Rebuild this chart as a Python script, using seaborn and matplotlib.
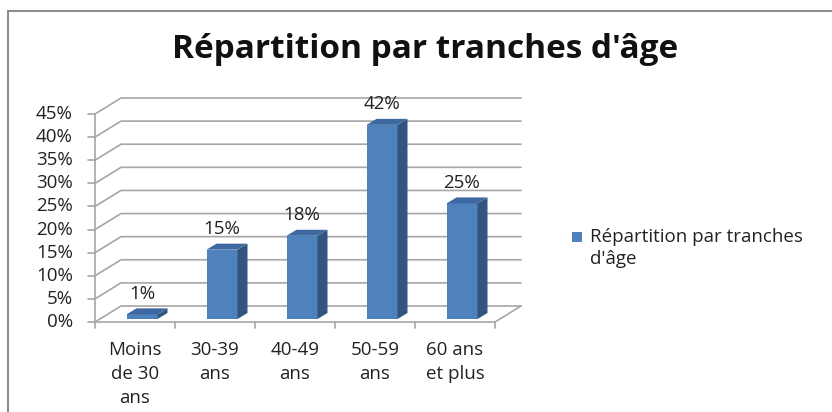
import matplotlib
matplotlib.use("Agg")
import matplotlib.pyplot as plt
import seaborn as sns
import pandas as pd
from matplotlib.patches import Polygon, Rectangle
from matplotlib.lines import Line2D

categories = ["Moins\nde 30\nans", "30-39\nans", "40-49\nans", "50-59\nans", "60 ans\net plus"]
values = [1, 15, 18, 42, 25]
yticks = [0, 5, 10, 15, 20, 25, 30, 35, 40, 45]
series_name = "Répartition par tranches d'âge"
title = "Répartition par tranches d'âge"

sns.set_theme(style="white")
plt.rcParams["font.family"] = ["Open Sans", "DejaVu Sans"]

W, H = 832, 412
fig = plt.figure(figsize=(W / 100, H / 100), dpi=100)

FS = 13.5
TXT = "#222222"

# pixel geometry
px_per_cat = 80.0
px_per_pct = (322 - 114) / 45.0
x0_px, y0_px = 95, 322
xlim = (-0.5, 4.9)
ylim = (0, 49.5)
ax_w = (xlim[1] - xlim[0]) * px_per_cat
ax_h = (ylim[1] - ylim[0]) * px_per_pct
ax = fig.add_axes([x0_px / W, (H - y0_px) / H, ax_w / W, ax_h / H])
ax.set_xlim(*xlim)
ax.set_ylim(*ylim)
ax.set_facecolor("none")

# depth of the 3D box
DX = 26 / px_per_cat
DY = 16 / px_per_pct
grid_col = "#a6a6a6"

df = pd.DataFrame({"cat": categories, "val": values})
sns.barplot(data=df, x="cat", y="val", color="#4f81bd", saturation=1,
            width=31 / px_per_cat, ax=ax, zorder=3, linewidth=0)
ax.set_xlim(*xlim)
ax.set_ylim(*ylim)

# walls: gridlines and floor
for v in yticks:
    ax.plot([-0.5, -0.5 + DX, 4.5 + DX], [v, v + DY, v + DY], color=grid_col, lw=1.2, zorder=1, clip_on=False)
ax.plot([-0.5, 4.5, 4.5 + DX], [0, 0, DY], color=grid_col, lw=1.2, zorder=1, clip_on=False)
ax.plot([-0.5, -0.5], [0, 45], color=grid_col, lw=1.2, zorder=1, clip_on=False)
# tick marks
for v in yticks:
    ax.plot([-0.5 - 7 / px_per_cat, -0.5], [v, v], color=grid_col, lw=1.2, clip_on=False)
for i in range(6):
    xb = -0.5 + i
    ax.plot([xb, xb], [0, -6 / px_per_pct], color=grid_col, lw=1.2, clip_on=False)

# 3D bars
sx = 7 / px_per_cat
sy = 3 / px_per_pct
ddx = 10 / px_per_cat
ddy = 6 / px_per_pct
for p, v in zip(ax.patches, values):
    p.set_x(p.get_x() + sx)
    p.set_y(p.get_y() + sy)
    x1 = p.get_x()
    w = p.get_width()
    b = p.get_y()
    t = b + p.get_height()
    side = Polygon([[x1 + w, b], [x1 + w + ddx, b + ddy], [x1 + w + ddx, t + ddy], [x1 + w, t]],
                   closed=True, facecolor="#32557f", edgecolor="none", zorder=3)
    top = Polygon([[x1, t], [x1 + ddx, t + ddy], [x1 + w + ddx, t + ddy], [x1 + w, t]],
                  closed=True, facecolor="#3d68a0", edgecolor="none", zorder=3)
    ax.add_patch(side)
    ax.add_patch(top)
    ax.text(x1 + w / 2, t + ddy + 1.2, f"{v}%", ha="center", va="bottom",
            fontsize=FS, color=TXT, zorder=4)

# axis labels
ax.set_xticks([])
ax.set_yticks([])
for s in ax.spines.values():
    s.set_visible(False)
ax.set_xlabel("")
ax.set_ylabel("")
for v in yticks:
    ax.text(-0.5 - 22 / px_per_cat, v, f"{v}%", ha="right", va="center", fontsize=FS, color=TXT)
for i, c in enumerate(categories):
    ax.text(i, -19 / px_per_pct, c, ha="center", va="top", fontsize=FS, color=TXT, linespacing=1.42)

# legend
fig.patches.append(Rectangle((572 / W, 1 - 242 / H), 10 / W, 10 / H, transform=fig.transFigure,
                             facecolor="#4f81bd", edgecolor="none"))
fig.text(590 / W, 1 - 228 / H, "Répartition par tranches\nd'âge", ha="left", va="top",
         fontsize=FS, color=TXT, linespacing=1.32, transform=fig.transFigure)

# title
fig.text(425 / W, 1 - 49 / H, title, ha="center", va="center", fontsize=24,
         fontweight="bold", color="#111111")

# border
fig.add_artist(Line2D([8 / W, 1], [1 - 11 / H, 1 - 11 / H], transform=fig.transFigure, color="#8c8c8c", lw=1.5))
fig.add_artist(Line2D([8 / W, 8 / W], [0, 1 - 11 / H], transform=fig.transFigure, color="#8c8c8c", lw=1.5))

fig.savefig("out.png", dpi=100, facecolor="white")
